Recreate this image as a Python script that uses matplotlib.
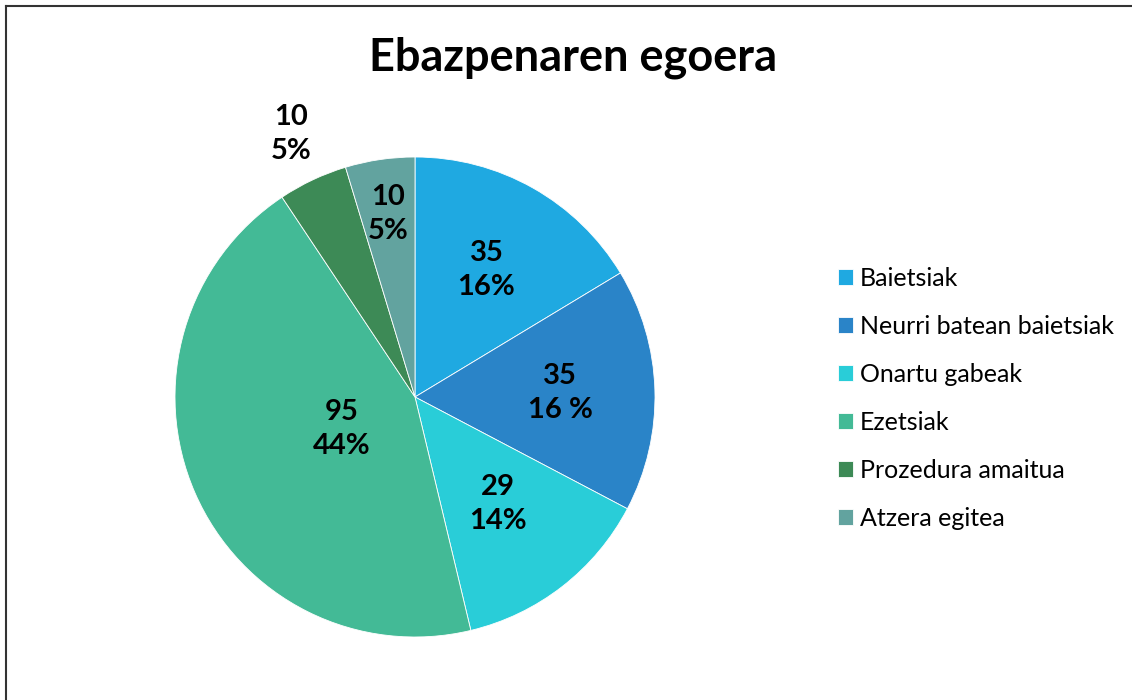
import numpy as np
import matplotlib
matplotlib.use("Agg")
import matplotlib.pyplot as plt
from matplotlib.lines import Line2D

plt.rcParams["font.family"] = ["Lato", "DejaVu Sans"]

# datuak
categories = ["Baietsiak", "Neurri batean baietsiak", "Onartu gabeak",
              "Ezetsiak", "Prozedura amaitua", "Atzera egitea"]
values = [35, 35, 29, 95, 10, 10]
pct_labels = ["16%", "16 %", "14%", "44%", "5%", "5%"]
colors = ["#1FA9E1", "#2A84C8", "#29CDD8", "#43BA96", "#3D8A56", "#62A39F"]
# etiketen distantzia (erradioaren zatikia)
label_r = [0.606, 0.605, 0.565, 0.333, 1.21, 0.77]

fig = plt.figure(figsize=(11.32, 7.0), dpi=100)
ax = fig.add_axes([175 / 1132, 63 / 700, 480 / 1132, 480 / 700])

wedges, _ = ax.pie(values, colors=colors, startangle=90, counterclock=False,
                   radius=1.0, wedgeprops=dict(edgecolor="white", linewidth=0.6))
ax.set_xlim(-1, 1)
ax.set_ylim(-1, 1)
ax.set_aspect("equal")

for w, v, p, r in zip(wedges, values, pct_labels, label_r):
    ang = np.deg2rad((w.theta1 + w.theta2) / 2)
    ax.text(r * np.cos(ang), r * np.sin(ang), f"{v}\n{p}", ha="center", va="center",
            fontsize=21, fontweight="bold", color="black", linespacing=1.38,
            clip_on=False)

fig.text(573 / 1132, 1 - 58 / 700, "Ebazpenaren egoera", ha="center", va="center",
         fontsize=32.5, fontweight="bold")

leg = fig.legend(wedges, categories, loc="center left",
                 bbox_to_anchor=(815 / 1132, 1 - 398 / 700), frameon=False,
                 fontsize=18, handlelength=0.6, handleheight=0.6,
                 handletextpad=0.3, labelspacing=1.0)

# kanpoko ertza
fig.add_artist(Line2D([6 / 1132, 6 / 1132], [0, 1 - 6 / 700], color="#333333", lw=1.5))
fig.add_artist(Line2D([6 / 1132, 1], [1 - 6 / 700, 1 - 6 / 700], color="#333333", lw=1.5))

fig.savefig("out.png", dpi=100)
